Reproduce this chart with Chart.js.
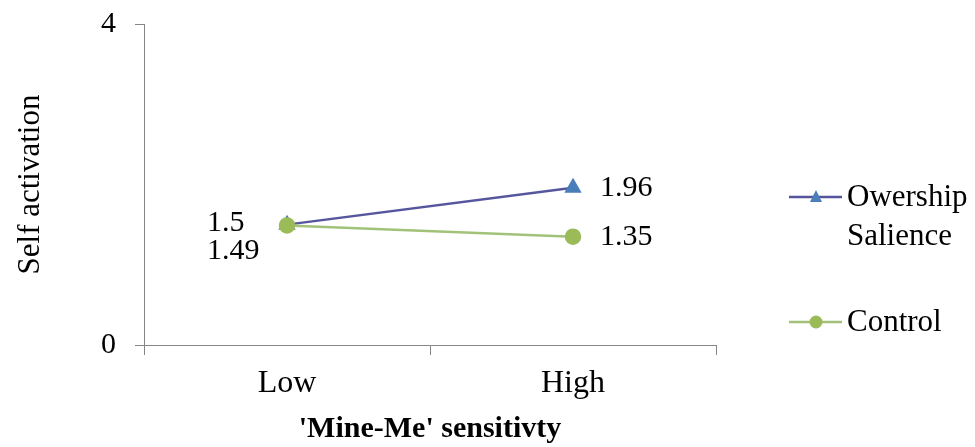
<!DOCTYPE html>
<html>
<head>
<meta charset="utf-8">
<script src="https://cdn.jsdelivr.net/npm/chart.js@4.4.0/dist/chart.umd.min.js"></script>
<style>
    html, body { margin: 0; padding: 0; background: #ffffff; }
    #wrap { width: 975px; height: 447px; }
</style>
</head>
<body>
<div id="wrap"><canvas id="chart" width="975" height="447"></canvas></div>
<script>
const categories = ['Low', 'High'];
const ownershipValues = [1.5, 1.96];
const controlValues = [1.49, 1.35];
const yTicks = [0, 4];
const ownershipName = ['Owership', 'Salience'];
const controlName = ['Control'];
const xTitle = "'Mine-Me' sensitivty";
const yTitle = 'Self activation';

function main() {
    const serif = "'Liberation Serif', 'Times New Roman', serif";
    const axisColor = '#868686';

    // label offsets from each point (dx, dy), left aligned text
    const labelOffsets = [
        [{ dx: -80, dy: -2 }, { dx: 27, dy: 0 }],
        [{ dx: -80, dy: 26 }, { dx: 27, dy: 0 }]
    ];

    const dataLabels = {
        id: 'dataLabels',
        afterDatasetsDraw(chart) {
            const ctx = chart.ctx;
            ctx.save();
            ctx.font = '30px ' + serif;
            ctx.fillStyle = '#000000';
            ctx.textAlign = 'left';
            ctx.textBaseline = 'middle';
            chart.data.datasets.forEach((dataset, di) => {
                const meta = chart.getDatasetMeta(di);
                meta.data.forEach((point, i) => {
                    const off = labelOffsets[di][i];
                    ctx.fillText(String(dataset.data[i]), point.x + off.dx, point.y + off.dy);
                });
            });
            ctx.restore();
        }
    };

    const sideLegend = {
        id: 'sideLegend',
        afterDraw(chart) {
            const ctx = chart.ctx;
            const items = [
                { lines: ownershipName, y: 197, ds: chart.data.datasets[0] },
                { lines: controlName, y: 322, ds: chart.data.datasets[1] }
            ];
            ctx.save();
            items.forEach((item) => {
                ctx.strokeStyle = item.ds.borderColor;
                ctx.lineWidth = 2.5;
                ctx.beginPath();
                ctx.moveTo(789, item.y);
                ctx.lineTo(842, item.y);
                ctx.stroke();

                ctx.fillStyle = item.ds.pointBackgroundColor;
                ctx.beginPath();
                if (item.ds.pointStyle === 'triangle') {
                    ctx.moveTo(816, item.y - 7);
                    ctx.lineTo(822, item.y + 5);
                    ctx.lineTo(810, item.y + 5);
                    ctx.closePath();
                } else {
                    ctx.arc(816, item.y, 6.5, 0, Math.PI * 2);
                }
                ctx.fill();

                ctx.fillStyle = '#000000';
                ctx.font = '31px ' + serif;
                ctx.textAlign = 'left';
                ctx.textBaseline = 'alphabetic';
                item.lines.forEach((line, li) => {
                    ctx.fillText(line, 847, item.y + 9 + li * 39);
                });
            });
            ctx.restore();
        }
    };

    const chartElement = document.querySelector('#chart');

    new Chart(chartElement, {
        type: 'line',
        data: {
            labels: categories,
            datasets: [{
                label: ownershipName.join(' '),
                data: ownershipValues,
                borderColor: '#55569E',
                backgroundColor: '#4A7EBB',
                pointBackgroundColor: '#4A7EBB',
                pointBorderColor: '#4A7EBB',
                pointStyle: 'triangle',
                pointRadius: 7.5,
                borderWidth: 2.5,
                order: 2
            }, {
                label: controlName.join(' '),
                data: controlValues,
                borderColor: '#A2C27A',
                backgroundColor: '#9BBB59',
                pointBackgroundColor: '#9BBB59',
                pointBorderColor: '#9BBB59',
                pointStyle: 'circle',
                pointRadius: 7,
                borderWidth: 2.5,
                order: 1
            }]
        },
        options: {
            responsive: false,
            animation: false,
            layout: { padding: { left: 0, right: 259, top: 24, bottom: 0 } },
            plugins: {
                legend: { display: false },
                tooltip: { enabled: false }
            },
            scales: {
                x: {
                    offset: true,
                    grid: {
                        offset: true,
                        drawOnChartArea: false,
                        drawTicks: true,
                        tickLength: 10,
                        color: axisColor
                    },
                    border: { display: true, color: axisColor, width: 1 },
                    ticks: {
                        color: '#000000',
                        font: { family: serif, size: 32 },
                        padding: 9,
                        maxRotation: 0
                    },
                    title: {
                        display: true,
                        text: xTitle,
                        color: '#000000',
                        font: { family: serif, size: 30, weight: 'bold', lineHeight: 1 },
                        padding: { top: 0, bottom: 3 }
                    },
                    afterFit(scale) {
                        scale.height = 102;
                        scale.paddingLeft = 0;
                        scale.paddingRight = 0;
                    }
                },
                y: {
                    min: 0,
                    max: 4,
                    afterBuildTicks(scale) {
                        scale.ticks = yTicks.map((v) => ({ value: v }));
                    },
                    grid: {
                        drawOnChartArea: false,
                        drawTicks: true,
                        tickLength: 9,
                        color: axisColor
                    },
                    border: { display: true, color: axisColor, width: 1 },
                    ticks: {
                        color: '#000000',
                        font: { family: serif, size: 30 },
                        padding: 19
                    },
                    title: {
                        display: true,
                        text: yTitle,
                        color: '#000000',
                        font: { family: serif, size: 31 },
                        padding: { top: 12, bottom: 0 }
                    },
                    afterFit(scale) {
                        scale.width = 144;
                        scale.paddingTop = 0;
                        scale.paddingBottom = 0;
                    }
                }
            }
        },
        plugins: [dataLabels, sideLegend]
    });
}

main();
</script>
</body>
</html>
